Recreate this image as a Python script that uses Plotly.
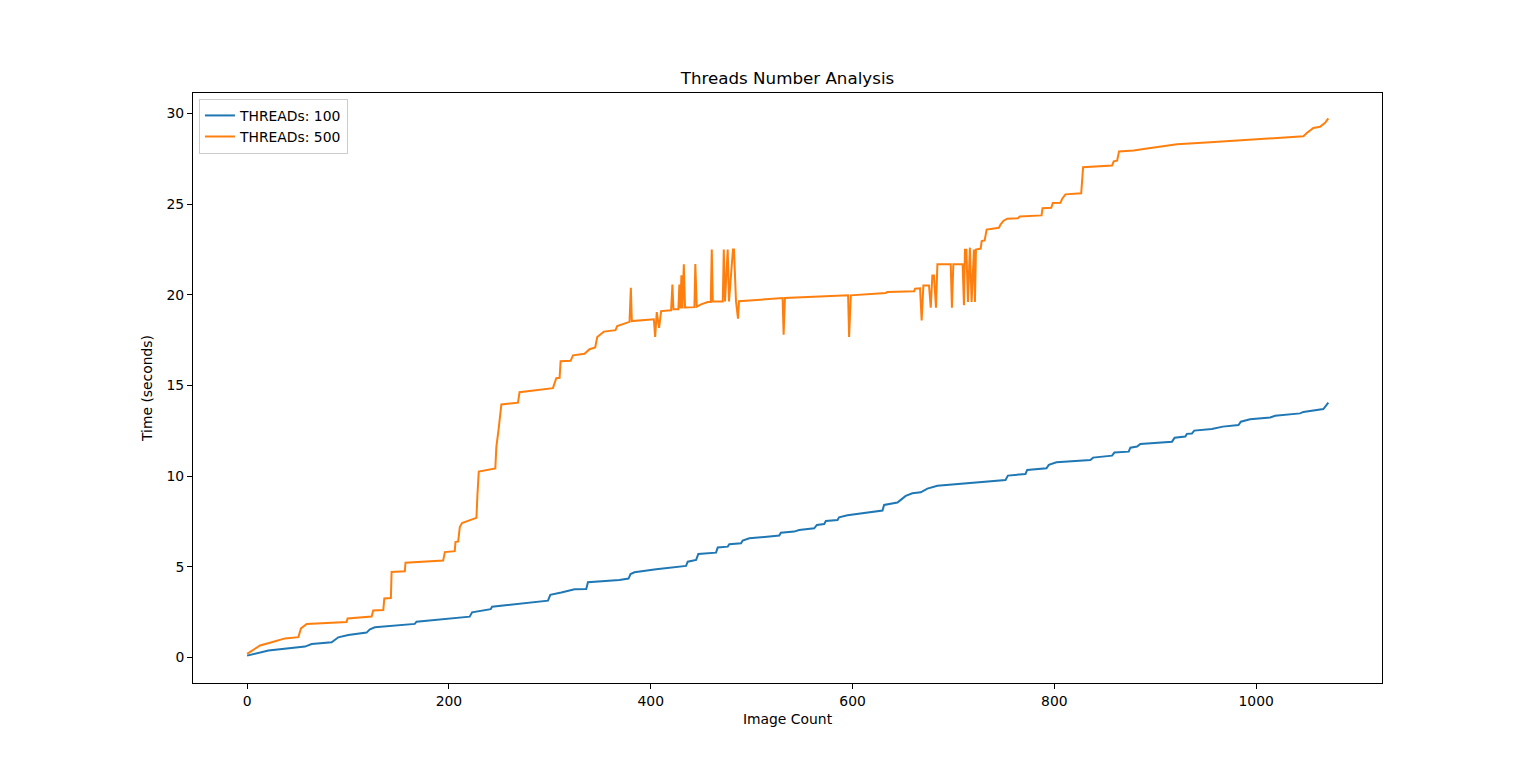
import plotly.graph_objects as go

# THREADs: 100 (vertices)
threads_100_x = [0, 21.2, 57.4, 64, 83.8, 90.4, 100.3, 118.4, 121.7, 126.7, 166.2, 167.9, 220.6, 223,
                 241.4, 242.8, 298.2, 300.5, 311.4, 324.5, 336.1, 337.8, 369, 378, 380, 383.9, 405.4,
                 425.2, 435, 436.7, 445, 447.2, 464.7, 466.4, 476.3, 477.9, 489.5, 491.1, 497.7, 527.4,
                 529, 542.2, 547.1, 562, 564.7, 571.9, 573.6, 585.1, 586.7, 595, 616.4, 629.7, 631.3,
                 644.5, 647.8, 652.7, 659.3, 667.6, 674.2, 684.1, 751.6, 754, 771.4, 773.1, 792.2, 794.5,
                 802.1, 835.7, 838.4, 857.2, 859.5, 873.7, 875.3, 882, 885.2, 916.6, 919.2, 929.7, 931.4,
                 936.3, 938.6, 956.1, 967, 982.5, 984.8, 994, 1013.9, 1018.8, 1043.5, 1046.8, 1066.6, 1071.5]
threads_100_y = [0.1, 0.38, 0.6, 0.74, 0.84, 1.11, 1.24, 1.37, 1.55, 1.66, 1.85, 1.97, 2.25, 2.49,
                 2.66, 2.8, 3.13, 3.45, 3.58, 3.76, 3.78, 4.15, 4.27, 4.35, 4.6, 4.7, 4.86,
                 4.97, 5.05, 5.28, 5.38, 5.71, 5.78, 6.06, 6.11, 6.24, 6.3, 6.44, 6.57, 6.72,
                 6.88, 6.94, 7.03, 7.12, 7.31, 7.36, 7.53, 7.58, 7.73, 7.84, 7.99, 8.1, 8.41,
                 8.54, 8.69, 8.91, 9.05, 9.11, 9.31, 9.47, 9.79, 10.03, 10.12, 10.34, 10.43, 10.62,
                 10.76, 10.89, 11.02, 11.13, 11.3, 11.35, 11.57, 11.63, 11.77, 11.9, 12.12, 12.18, 12.33,
                 12.35, 12.51, 12.6, 12.73, 12.82, 13.0, 13.14, 13.23, 13.33, 13.46, 13.54, 13.7, 14.05]

# THREADs: 500
threads_500_x = [0, 12.9, 24.4, 37.6, 50.8, 53.4, 59.1, 98.6, 99.6, 123.4, 125, 135, 136, 142.5, 143.2,
                 156.3, 157, 194.3, 196, 205.8, 206.5, 209.2, 210.8, 213, 222.3, 227.3, 228.3, 229.6,
                 246, 247, 249.3, 252, 268.5, 270, 303.1, 304.8, 306.4, 309.7, 310.7, 320.6, 323, 334.4,
                 339.4, 345, 347, 351, 353.6, 365.1, 366.8, 379, 380.3, 381.3, 403.1, 404.4, 406, 408.3,
                 410.3, 420.2, 421.5, 422.5, 427.4, 428.4, 429.4, 430.4, 431.4, 432.8, 434, 443.3, 444.2,
                 445.6, 449.9, 456.5, 459.5, 460.5, 461.5, 471.4, 472.4, 473.6, 476.3, 477.6, 481.5, 482.5,
                 484.5, 486.5, 487.5, 530.7, 531.7, 533, 595.6, 596.6, 598.3, 632.9, 634.6, 661, 662,
                 666.9, 668.5, 670.2, 675.8, 677.5, 679.1, 680.7, 682.7, 684.1, 697.3, 698.5, 699.9, 709.1,
                 710.4, 711.4, 712.8, 714.4, 716.3, 718, 720.3, 721.3, 722.3, 727, 728, 730.9, 732.9, 745,
                 746.7, 749.4, 753.3, 763.8, 765.8, 787.3, 788.3, 796.9, 798.5, 806.1, 807.8, 811, 826.6,
                 828.5, 857.2, 858.8, 862.2, 864.1, 878.6, 890.2, 905, 921.5, 954.5, 1007.2, 1046.8,
                 1050.2, 1056.7, 1063.3, 1068.3, 1071.5]
threads_500_y = [0.2, 0.66, 0.84, 1.05, 1.12, 1.6, 1.85, 1.95, 2.15, 2.26, 2.59, 2.62, 3.25, 3.28, 4.71,
                 4.75, 5.22, 5.34, 5.81, 5.86, 6.36, 6.4, 7.19, 7.41, 7.6, 7.7, 9.0, 10.25,
                 10.42, 11.6, 12.6, 13.95, 14.05, 14.63, 14.85, 15.1, 15.4, 15.42, 16.34, 16.36, 16.66, 16.75,
                 17.0, 17.1, 17.67, 17.85, 17.97, 18.05, 18.27, 18.51, 20.39, 18.55, 18.65, 17.67, 19.05, 18.17,
                 19.1, 19.15, 20.56, 19.2, 19.2, 20.57, 19.25, 21.07, 19.25, 21.68, 19.3, 19.32, 21.7,
                 19.35, 19.47, 19.6, 19.6, 22.5, 19.63, 19.63, 22.5, 19.63, 22.5, 19.63, 22.5, 22.5,
                 19.65, 18.68, 19.65, 19.82, 17.8, 19.83, 19.97, 17.67, 19.97, 20.1, 20.15, 20.2, 20.34,
                 20.36, 18.59, 20.52, 20.52, 19.29, 21.07, 21.07, 19.29, 21.68, 21.68, 19.29, 21.68, 21.68,
                 19.42, 22.48, 22.48, 19.6, 22.6, 19.6, 22.5, 19.6, 22.5, 22.55, 22.96, 23.0, 23.6, 23.7,
                 23.88, 24.07, 24.2, 24.22, 24.32, 24.38, 24.78, 24.8, 25.06, 25.08, 25.3, 25.54, 25.6,
                 27.04, 27.13, 27.36, 27.4, 27.91, 27.96, 28.06, 28.19, 28.3, 28.42, 28.6, 28.74,
                 28.92, 29.2, 29.27, 29.49, 29.73]

x_ticks = [0, 200, 400, 600, 800, 1000]
y_ticks = [0, 5, 10, 15, 20, 25, 30]

font = "DejaVu Sans, Liberation Sans, sans-serif"

fig = go.Figure()
fig.add_trace(go.Scatter(x=threads_100_x, y=threads_100_y, mode="lines", name="THREADs: 100",
                         line=dict(color="#1f77b4", width=2)))
fig.add_trace(go.Scatter(x=threads_500_x, y=threads_500_y, mode="lines", name="THREADs: 500",
                         line=dict(color="#ff7f0e", width=2)))

axis_style = dict(showline=True, linecolor="black", linewidth=1, mirror=True,
                  ticks="outside", ticklen=5, tickcolor="black", tickwidth=1,
                  showgrid=False, zeroline=False,
                  tickfont=dict(family=font, size=13.9, color="black"))

fig.update_xaxes(range=[-53.6, 1124.7], tickvals=x_ticks,
                 title=dict(text="Image Count", font=dict(family=font, size=13.9, color="black"), standoff=6),
                 **axis_style)
fig.update_yaxes(range=[-1.41, 31.13], tickvals=y_ticks,
                 title=dict(text="Time (seconds)", font=dict(family=font, size=13.9, color="black"), standoff=10),
                 **axis_style)

fig.update_layout(
    width=1536, height=767,
    margin=dict(l=193, r=154, t=93, b=84),
    paper_bgcolor="white", plot_bgcolor="white",
    font=dict(family=font, color="black"),
    title=dict(text="Threads Number Analysis", font=dict(family=font, size=16.7, color="black"),
               x=0.5, xref="paper", xanchor="center", y=1 - 78 / 767, yref="container", yanchor="middle"),
    legend=dict(x=0.005, y=0.99, xanchor="left", yanchor="top",
                bgcolor="rgba(255,255,255,0.8)", bordercolor="#cccccc", borderwidth=1,
                font=dict(family=font, size=13.9, color="black"), tracegroupgap=0),
    showlegend=True,
)

fig.write_html("out.html", config={"displayModeBar": False},
               post_script="document.body.style.margin='0';")
